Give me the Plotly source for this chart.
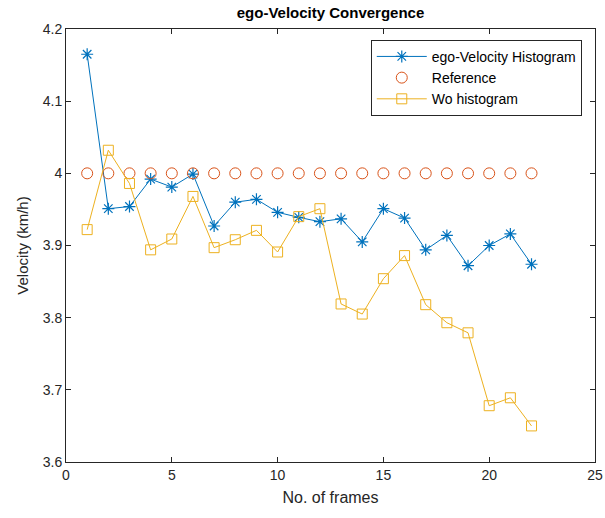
import plotly.graph_objects as go

frames = list(range(1, 23))
ego_hist = [4.165, 3.951, 3.954, 3.992, 3.981, 3.999, 3.927, 3.960, 3.964, 3.946, 3.939,
            3.933, 3.937, 3.905, 3.951, 3.938, 3.894, 3.914, 3.872, 3.900, 3.916, 3.874]
reference = [4.0] * 22
wo_hist = [3.922, 4.032, 3.986, 3.894, 3.909, 3.968, 3.897, 3.908, 3.921, 3.891, 3.940,
           3.951, 3.819, 3.805, 3.854, 3.886, 3.818, 3.793, 3.779, 3.678, 3.689, 3.650]

xticks = [0, 5, 10, 15, 20, 25]
yticks = [3.6, 3.7, 3.8, 3.9, 4.0, 4.1, 4.2]
ytick_labels = ["3.6", "3.7", "3.8", "3.9", "4", "4.1", "4.2"]

BLUE = "#0072BD"
ORANGE = "#D95319"
YELLOW = "#EDB120"
AX = "#262626"
FONT = "Liberation Sans, Arial, sans-serif"

fig = go.Figure()
fig.add_trace(go.Scatter(x=frames, y=ego_hist, mode="lines+markers", name="ego-Velocity Histogram",
                         line=dict(color=BLUE, width=1),
                         marker=dict(symbol="asterisk-open", size=10, color=BLUE, line=dict(color=BLUE, width=1.2))))
fig.add_trace(go.Scatter(x=frames, y=reference, mode="markers", name="Reference",
                         marker=dict(symbol="circle-open", size=11, color=ORANGE, line=dict(color=ORANGE, width=1))))
fig.add_trace(go.Scatter(x=frames, y=wo_hist, mode="lines+markers", name="Wo histogram",
                         line=dict(color=YELLOW, width=1),
                         marker=dict(symbol="square-open", size=10, color=YELLOW, line=dict(color=YELLOW, width=1))))

axis_common = dict(showgrid=False, zeroline=False, ticks="inside", ticklen=5, tickcolor=AX,
                   showline=True, linecolor=AX, linewidth=1, mirror="ticks", automargin=False,
                   tickfont=dict(family=FONT, size=14, color=AX))

fig.update_layout(
    width=605, height=518,
    margin=dict(l=66, r=10, t=29, b=56),
    paper_bgcolor="white", plot_bgcolor="white",
    title=dict(text="<b>ego-Velocity Convergence</b>", x=0.5, xref="paper", y=0.975, yanchor="middle",
               font=dict(family=FONT, size=15, color="black")),
    xaxis=dict(range=[0, 25], tickvals=xticks, ticktext=[str(t) for t in xticks],
               title=dict(text="No. of frames", font=dict(family=FONT, size=16, color=AX), standoff=10),
               **axis_common),
    yaxis=dict(range=[3.6, 4.2], tickvals=yticks, ticktext=ytick_labels,
               title=dict(text="Velocity (km/h)", font=dict(family=FONT, size=15, color=AX), standoff=10),
               **axis_common),
    legend=dict(x=0.975, y=0.975, xanchor="right", yanchor="top", bgcolor="white",
                bordercolor=AX, borderwidth=1, font=dict(family=FONT, size=14, color="black"),
                tracegroupgap=0, itemwidth=50),
    showlegend=True,
)

fig.write_html("out.html")
